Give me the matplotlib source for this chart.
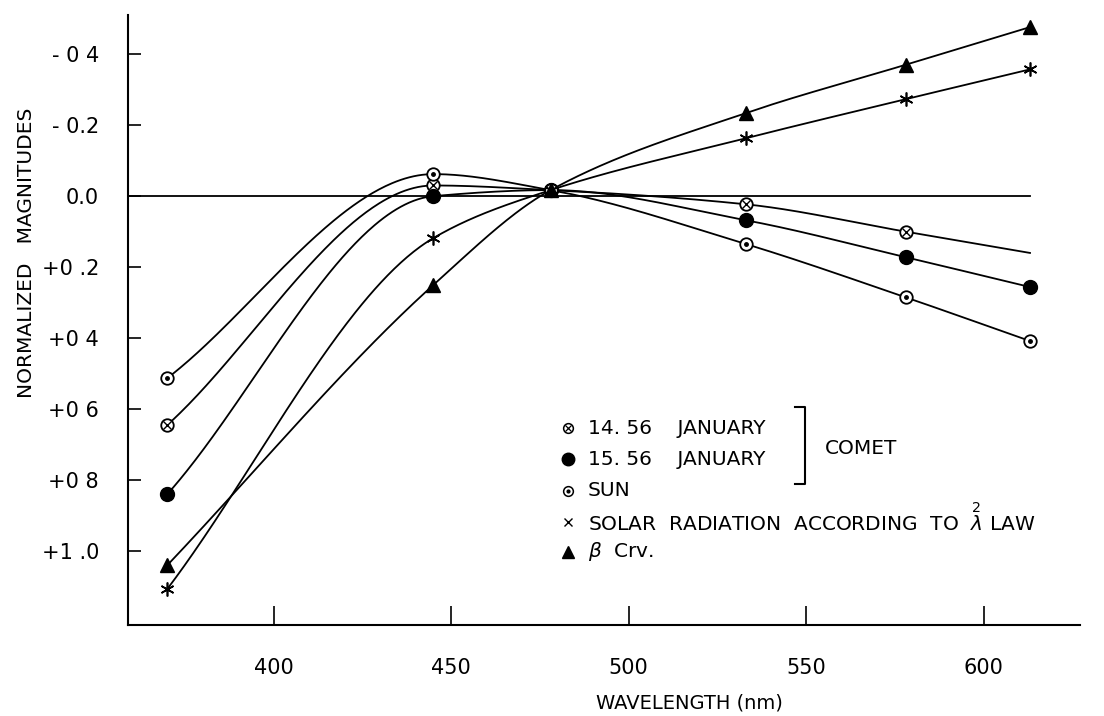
import numpy as np
import matplotlib
matplotlib.use("Agg")
import matplotlib.pyplot as plt

# wavelengths (nm) and normalized magnitudes
wl = [370, 445, 478, 533, 578, 613]
jan14 = [0.645, -0.03, -0.017, 0.023, 0.10, 0.16]     # last value: line end, no marker
jan15 = [0.84, 0.0, -0.017, 0.068, 0.172, 0.256]
sun = [0.513, -0.062, -0.017, 0.135, 0.285, 0.408]
solar = [1.107, 0.118, -0.017, -0.163, -0.273, -0.357]
bcrv = [1.04, 0.25, -0.017, -0.234, -0.37, -0.476]

yticks = [-0.4, -0.2, 0.0, 0.2, 0.4, 0.6, 0.8, 1.0]
ytick_labels = ["- 0 4", "- 0.2", "0.0", "+0 .2", "+0 4", "+0 6", "+0 8", "+1 .0"]
xticks = [400, 450, 500, 550, 600]


def pchip(x, y, xs):
    # monotone cubic through the points, just for a smooth pen-drawn look
    x = np.asarray(x, float)
    y = np.asarray(y, float)
    h = np.diff(x)
    d = np.diff(y) / h
    m = np.zeros_like(y)
    for k in range(1, len(x) - 1):
        if d[k - 1] * d[k] > 0:
            w1 = 2 * h[k] + h[k - 1]
            w2 = h[k] + 2 * h[k - 1]
            m[k] = (w1 + w2) / (w1 / d[k - 1] + w2 / d[k])
    m[0] = d[0]
    m[-1] = d[-1]
    out = np.empty_like(xs)
    for i, xv in enumerate(xs):
        k = min(np.searchsorted(x, xv) - 1, len(x) - 2)
        k = max(k, 0)
        t = (xv - x[k]) / h[k]
        h00 = 2 * t**3 - 3 * t**2 + 1
        h10 = t**3 - 2 * t**2 + t
        h01 = -2 * t**3 + 3 * t**2
        h11 = t**3 - t**2
        out[i] = h00 * y[k] + h10 * h[k] * m[k] + h01 * y[k + 1] + h11 * h[k] * m[k + 1]
    return out


fig = plt.figure(figsize=(11.04, 7.16), dpi=100)
ax = fig.add_axes([0.116, 0.127, 0.862, 0.852])

lw = 1.3
xs = np.linspace(wl[0], wl[-1], 400)
for ser in [jan14, jan15, sun, solar, bcrv]:
    ax.plot(xs, pchip(wl, ser, xs), color="black", lw=lw)

ax.plot([359, 613], [0, 0], color="black", lw=lw)

ms = 9
ax.plot(wl[:5], jan14[:5], "o", ms=ms, mfc="white", mec="black", mew=1.3)
ax.plot(wl[:5], jan14[:5], "x", ms=5.5, color="black", mew=1.0)
ax.plot(wl, jan15, "o", ms=ms + 1, color="black")
ax.plot(wl, sun, "o", ms=ms, mfc="white", mec="black", mew=1.3)
ax.plot(wl, sun, "o", ms=2.5, color="black")
ax.plot(wl, solar, marker=(6, 2, 0), ls="none", ms=10, color="black", mew=1.2)
ax.plot(wl, bcrv, "^", ms=ms + 1, color="black")

ax.set_xlim(359, 627)
ax.set_ylim(1.208, -0.51)
ax.spines["top"].set_visible(False)
ax.spines["right"].set_visible(False)
ax.spines["left"].set_linewidth(1.5)
ax.spines["bottom"].set_linewidth(1.5)

ax.set_xticks(xticks)
ax.set_xticklabels([str(v) for v in xticks], fontsize=15)
ax.set_yticks(yticks)
ax.set_yticklabels(ytick_labels, fontsize=15)
ax.tick_params(axis="x", direction="in", length=14, width=1.2, pad=24)
ax.tick_params(axis="y", direction="in", length=9, width=1.2, pad=21)

ax.set_xlabel("WAVELENGTH (nm)", fontsize=14)
ax.xaxis.set_label_coords(0.59, -0.112)
ax.set_ylabel("NORMALIZED   MAGNITUDES", fontsize=14.5)
ax.yaxis.set_label_coords(-0.097, 0.61)

# hand-made legend
tr = ax.transAxes
mx, tx = 0.462, 0.483
rows = [0.323, 0.272, 0.220, 0.169, 0.120]
fs = 14.5
ax.plot([mx], [rows[0]], "o", ms=7, mfc="white", mec="black", mew=1.1, transform=tr, clip_on=False)
ax.plot([mx], [rows[0]], "x", ms=4, color="black", mew=0.9, transform=tr, clip_on=False)
ax.text(tx, rows[0], "14. 56    JANUARY", fontsize=fs, va="center", transform=tr)
ax.plot([mx], [rows[1]], "o", ms=9, color="black", transform=tr, clip_on=False)
ax.text(tx, rows[1], "15. 56    JANUARY", fontsize=fs, va="center", transform=tr)
ax.plot([mx], [rows[2]], "o", ms=7, mfc="white", mec="black", mew=1.1, transform=tr, clip_on=False)
ax.plot([mx], [rows[2]], "o", ms=2, color="black", transform=tr, clip_on=False)
ax.text(tx, rows[2], "SUN", fontsize=fs, va="center", transform=tr)
ax.plot([mx], [rows[3]], "x", ms=6, color="black", mew=1.0, transform=tr, clip_on=False)
ax.text(tx, rows[3] - 0.014, r"SOLAR  RADIATION  ACCORDING  TO  $\overset{2}{\lambda}$ LAW",
        fontsize=fs, va="baseline", transform=tr)
ax.plot([mx], [rows[4]], "^", ms=9, color="black", transform=tr, clip_on=False)
ax.text(tx, rows[4], r"$\beta$  Crv.", fontsize=fs, va="center", transform=tr)

ax.plot([0.701, 0.711, 0.711, 0.701], [0.357, 0.357, 0.232, 0.232], color="black", lw=1.5,
        transform=tr, clip_on=False)
ax.text(0.732, 0.289, "COMET", fontsize=fs, va="center", transform=tr)

fig.savefig("out.png", dpi=100)
